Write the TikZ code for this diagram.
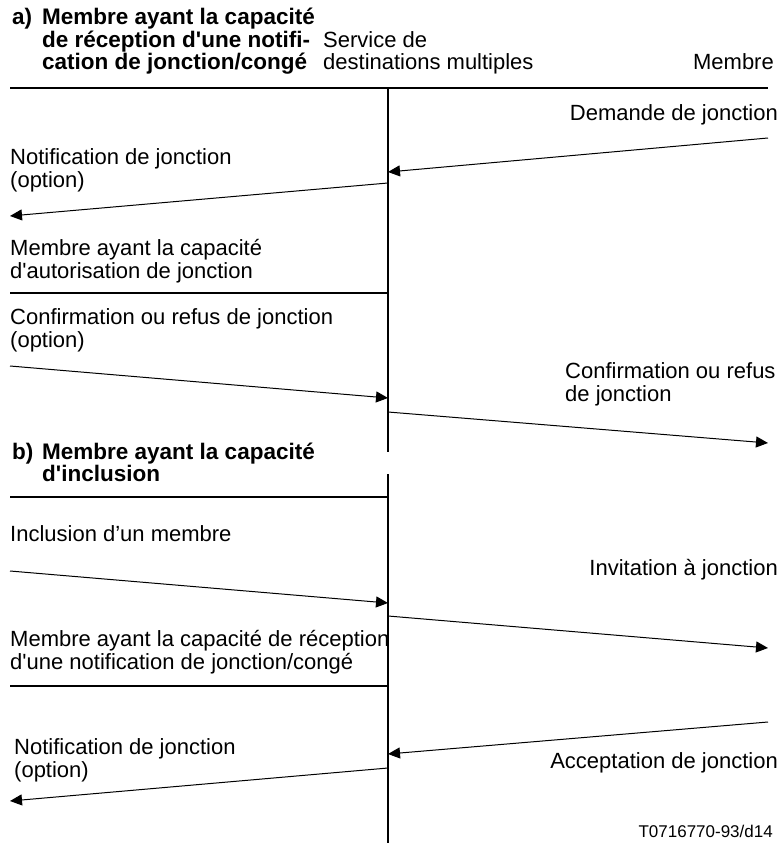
\documentclass[tikz,border=0pt]{standalone}
\usepackage{fontspec}
\setmainfont{Liberation Sans}
\usetikzlibrary{arrows.meta}
\newcommand\sq{\textquotesingle}
\begin{document}
\begin{tikzpicture}[x=1pt,y=-1pt,
  lbl/.style={inner sep=0pt, font=\fontsize{22}{23}\selectfont},
  hd/.style={inner sep=0pt, font=\fontsize{22.5}{23}\selectfont\bfseries},
  small/.style={inner sep=0pt, font=\fontsize{17}{19}\selectfont},
  rulel/.style={line width=2pt},
  msg/.style={line width=1pt, -{Triangle[length=12pt,width=11pt]}}]
\useasboundingbox (0,0) rectangle (782,843);
% structural coordinates
\coordinate (tl) at (10,88);
\coordinate (tr) at (768,88);
\coordinate (v1t) at (388,88);
\coordinate (v1b) at (388,452);
\coordinate (v2t) at (388,474);
\coordinate (v2b) at (388,843);
\coordinate (haL) at (10,293);
\coordinate (haR) at (388,293);
\coordinate (hbL) at (10,497);
\coordinate (hbR) at (388,497);
\coordinate (hcL) at (10,686);
\coordinate (hcR) at (388,686);
% message end points
\coordinate (m1s) at (768,138); \coordinate (m1e) at (388,172);
\coordinate (m2s) at (388,183); \coordinate (m2e) at (10,216);
\coordinate (m3s) at (10,366);  \coordinate (m3e) at (388,398);
\coordinate (m4s) at (388,412); \coordinate (m4e) at (768,443);
\coordinate (m5s) at (10,571);  \coordinate (m5e) at (388,603);
\coordinate (m6s) at (388,616); \coordinate (m6e) at (768,648);
\coordinate (m7s) at (768,722); \coordinate (m7e) at (388,754);
\coordinate (m8s) at (388,768); \coordinate (m8e) at (10,801);
% lines
\draw[rulel] (tl) -- (tr);
\draw[rulel] (v1t) -- (v1b);
\draw[rulel] (v2t) -- (v2b);
\draw[rulel] (haL) -- (haR);
\draw[rulel] (hbL) -- (hbR);
\draw[rulel] (hcL) -- (hcR);
% messages
\draw[msg] (m1s) -- (m1e);
\draw[msg] (m2s) -- (m2e);
\draw[msg] (m3s) -- (m3e);
\draw[msg] (m4s) -- (m4e);
\draw[msg] (m5s) -- (m5e);
\draw[msg] (m6s) -- (m6e);
\draw[msg] (m7s) -- (m7e);
\draw[msg] (m8s) -- (m8e);
% header a
\node[hd, anchor=base west] (ta) at (12,25) {a)};
\node[hd, anchor=base west] (ta1) at (42,25) {Membre ayant la capacité};
\node[hd, anchor=base west] (ta2) at (42,47.5) {de réception d\sq une notifi-};
\node[hd, anchor=base west] (ta3) at (42,70) {cation de jonction/congé};
\node[lbl, anchor=base west] (s1) at (323,47.5) {Service de};
\node[lbl, anchor=base west] (s2) at (323,70) {destinations multiples};
\node[lbl, anchor=base east] (mb) at (774,70) {Membre};
% section a labels
\node[lbl, anchor=base east] (l1) at (778,120) {Demande de jonction};
\node[lbl, anchor=base west] (l2a) at (10,164) {Notification de jonction};
\node[lbl, anchor=base west] (l2b) at (10,187) {(option)};
\node[lbl, anchor=base west] (l3a) at (10,255) {Membre ayant la capacité};
\node[lbl, anchor=base west] (l3b) at (10,278) {d\sq autorisation de jonction};
\node[lbl, anchor=base west] (l4a) at (10,324) {Confirmation ou refus de jonction};
\node[lbl, anchor=base west] (l4b) at (10,347) {(option)};
\node[lbl, anchor=base west] (l5a) at (565,378) {Confirmation ou refus};
\node[lbl, anchor=base west] (l5b) at (565,401) {de jonction};
% header b
\node[hd, anchor=base west] (tb) at (12,459) {b)};
\node[hd, anchor=base west] (tb1) at (42,459) {Membre ayant la capacité};
\node[hd, anchor=base west] (tb2) at (42,481.5) {d\sq inclusion};
% section b labels
\node[lbl, anchor=base west] (l6) at (10,541) {Inclusion d’un membre};
\node[lbl, anchor=base east] (l7) at (778,575) {Invitation à jonction};
\node[lbl, anchor=base west] (l8a) at (10,646) {Membre ayant la capacité de réception};
\node[lbl, anchor=base west] (l8b) at (10,669) {d\sq une notification de jonction/congé};
\node[lbl, anchor=base west] (l9a) at (14,754) {Notification de jonction};
\node[lbl, anchor=base west] (l9b) at (14,777) {(option)};
\node[lbl, anchor=base east] (l10) at (778,768) {Acceptation de jonction};
\node[small, anchor=base east] (ref) at (773,837) {T0716770-93/d14};
\end{tikzpicture}
\end{document}
